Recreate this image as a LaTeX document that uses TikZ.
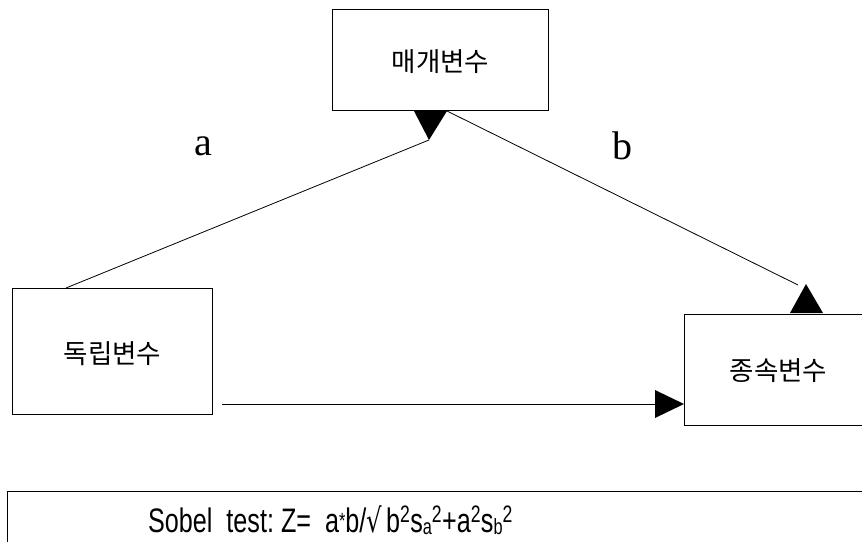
\documentclass[tikz,border=0pt]{standalone}
\usepackage{fontspec}
\setmainfont{Liberation Serif}
\newfontfamily\kr{Noto Sans CJK KR}
\newfontfamily\sobelfont{Liberation Sans}
\newfontfamily\symfont{DejaVu Sans}
\usetikzlibrary{calc}
\begin{document}
\begin{tikzpicture}[x=1pt,y=-1pt,
  box/.style={draw,line width=0.9pt,inner sep=0pt,anchor=north west},
  conn/.style={line width=0.8pt},
  tip/.style={fill=black,draw=none},
  lbl/.style={font=\fontsize{40}{40}\selectfont},
  krtxt/.style={font=\kr\fontsize{26.5}{26.5}\selectfont}]
\clip (0,0) rectangle (862,541);
\fill[white] (0,0) rectangle (862,541);
% boxes
\node[box,minimum width=216pt,minimum height=101pt] (med) at (332,9) {};
\node[krtxt] at ($(med.center)+(0,2)$) {매개변수};
\node[box,minimum width=200pt,minimum height=126pt] (ind) at (12,288) {};
\node[krtxt] at ($(ind.center)+(0,2)$) {독립변수};
\node[box,minimum width=190pt,minimum height=111pt] (dep) at (684,314) {};
\node[krtxt] at ($(dep.center)+(-1,1)$) {종속변수};
\node[box,minimum width=870pt,minimum height=70pt] (sob) at (7,491) {};
% anchor coordinates
\coordinate (aStart) at ($(ind.north west)+(54,0)$);
\coordinate (aTip) at (429,140);
\coordinate (bStart) at (447,111);
\coordinate (bEnd) at (798,285);
\coordinate (cStart) at (222,404);
\coordinate (cEnd) at (655,404);
% connectors
\draw[conn] (aStart) -- (aTip);
\draw[conn] (bStart) -- (bEnd);
\draw[conn] (cStart) -- (cEnd);
% arrowheads
\fill[tip] (414,111) -- (447,111) -- (aTip) -- cycle;
\fill[tip] (806,284) -- (823,313) -- (790,313) -- cycle;
\fill[tip] (cEnd) -- (655,390) -- (dep.west |- 0,404) -- (655,418) -- cycle;
% labels
\node[lbl] (la) at (203,146) {a};
\node[lbl] (lb) at (622,146) {b};
\node[font=\sobelfont\fontsize{34}{34}\selectfont,anchor=base west,inner sep=0pt] (sobt) at (148,532)
  {\scalebox{0.74}[1]{Sobel\ \ test:\ Z=\ \ a\raisebox{4pt}{\fontsize{22}{22}\selectfont *}b/\symfont\fontsize{33}{33}\selectfont √\sobelfont\fontsize{34}{34}\selectfont\,b\textsuperscript{2}s\raisebox{-2pt}{\fontsize{22}{22}\selectfont a}\textsuperscript{2}+a\textsuperscript{2}s\raisebox{-2pt}{\fontsize{22}{22}\selectfont b}\textsuperscript{2}}};
\end{tikzpicture}
\end{document}
